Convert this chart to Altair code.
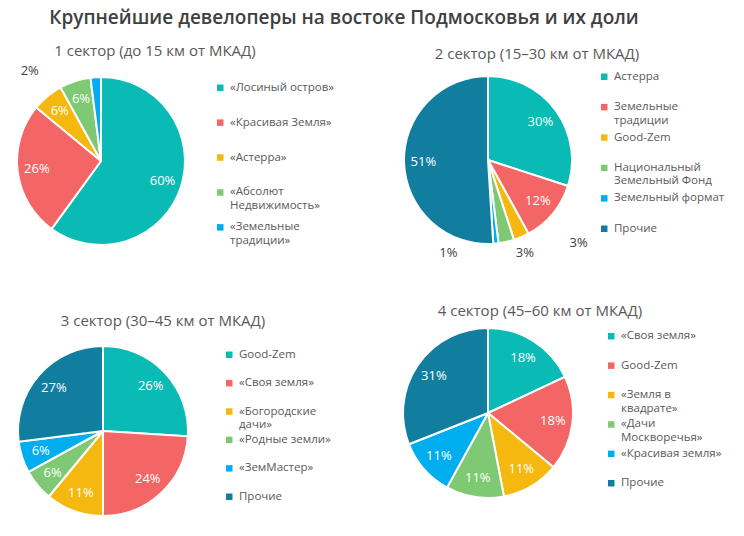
import altair as alt
import pandas as pd

FONT = "Open Sans"
TXT = "#595959"
DARK = "#404040"

TITLE = "Крупнейшие девелоперы на востоке Подмосковья и их доли"

# ---- data ----
s1_title = "1 сектор (до 15 км от МКАД)"
s1_names = ["«Лосиный остров»", "«Красивая Земля»", "«Астерра»", "«Абсолют\nНедвижимость»", "«Земельные\nтрадиции»"]
s1_vals = [60, 26, 6, 6, 2]
s1_colors = ["#0ABAB5", "#F46565", "#F4B80F", "#7FC874", "#00AEEF"]

s2_title = "2 сектор (15–30 км от МКАД)"
s2_names = ["Астерра", "Земельные\nтрадиции", "Good-Zem", "Национальный\nЗемельный Фонд", "Земельный формат", "Прочие"]
s2_vals = [30, 12, 3, 3, 1, 51]
s2_colors = ["#0ABAB5", "#F46565", "#F4B80F", "#7FC874", "#00AEEF", "#127E9F"]

s3_title = "3 сектор (30–45 км от МКАД)"
s3_names = ["Good-Zem", "«Своя земля»", "«Богородские\nдачи»", "«Родные земли»", "«ЗемМастер»", "Прочие"]
s3_vals = [26, 24, 11, 6, 6, 27]
s3_colors = ["#0ABAB5", "#F46565", "#F4B80F", "#7FC874", "#00AEEF", "#127E9F"]

s4_title = "4 сектор (45–60 км от МКАД)"
s4_names = ["«Своя земля»", "Good-Zem", "«Земля в\nквадрате»", "«Дачи\nМоскворечья»", "«Красивая земля»", "Прочие"]
s4_vals = [18, 18, 11, 11, 11, 31]
s4_colors = ["#0ABAB5", "#F46565", "#F4B80F", "#7FC874", "#00AEEF", "#127E9F"]

# ---- layout (chart coordinates; plot origin is page (8, 8 + TOP)) ----
TOP = 8
W, H = 728, 520 - TOP


def px(x):
    return x - 8


def py(y):
    return y - 8 - TOP


LABEL_EXPR = ("indexof(datum.label, '\\n') >= 0 ? split(datum.label, '\\n') "
              ": [datum.label, ' ']")


def text_layer(txt, x, y, size, weight="normal", color=TXT):
    return alt.Chart(pd.DataFrame({"t": [txt]})).mark_text(
        font=FONT, fontSize=size, fontWeight=weight, color=color,
        align="center", baseline="middle",
    ).encode(text="t:N", x=alt.value(px(x)), y=alt.value(py(y)))


def pie(title, names, vals, colors, cx, cy, r, lx, ly, rowpad, tx, ty, outside):
    df = pd.DataFrame({"name": names, "val": vals, "ord": list(range(len(names)))})
    base = alt.Chart().transform_calculate(lbl="format(datum.val, '.0f') + '%'")
    theta = alt.Theta("val:Q", stack=True)
    order = alt.Order("ord:Q")
    arc = base.mark_arc(radius=r, stroke="white", strokeWidth=2).encode(
        theta=theta,
        order=order,
        x=alt.value(px(cx)),
        y=alt.value(py(cy)),
        color=alt.Color(
            "name:N",
            sort=names,
            scale=alt.Scale(domain=names, range=colors),
            legend=alt.Legend(
                orient="none", legendX=px(lx) - 3.5, legendY=py(ly) - 6,
                direction="vertical", title=None, symbolType="square",
                symbolSize=42, symbolStrokeWidth=0, labelFont=FONT,
                labelFontSize=11.5, labelColor=TXT, labelOffset=4,
                rowPadding=rowpad, padding=0, labelLimit=300,
                labelExpr=LABEL_EXPR,
            ),
        ),
    )
    inside = base.mark_text(radius=r * 0.77, font=FONT, fontSize=13, color="white").encode(
        theta=theta,
        order=order,
        x=alt.value(px(cx)),
        y=alt.value(py(cy)),
        text=alt.condition("datum.val >= 5", alt.Text("lbl:N"), alt.value("")),
    )
    layers = [arc, inside]
    for nm, dx, dy in outside:
        layers.append(
            base.mark_text(radius=r + 16, font=FONT, fontSize=13, color=DARK, dx=dx, dy=dy).encode(
                theta=theta,
                order=order,
                x=alt.value(px(cx)),
                y=alt.value(py(cy)),
                text=alt.condition(alt.datum.name == nm, alt.Text("lbl:N"), alt.value("")),
            )
        )
    sub = text_layer(title, tx, ty, 15)
    return alt.layer(*layers, data=df), sub


p1, t1 = pie(s1_title, s1_names, s1_vals, s1_colors, 101, 161, 84, 218, 88, 8.9, 155, 51,
             [(s1_names[4], -65, 10)])
p2, t2 = pie(s2_title, s2_names, s2_vals, s2_colors, 488, 160, 84, 602, 77, 4.4, 537, 54,
             [(s2_names[2], 51, -9), (s2_names[3], 15, -5), (s2_names[4], -49, -7)])
p3, t3 = pie(s3_title, s3_names, s3_vals, s3_colors, 103, 431, 85, 227, 355, 2.4, 163, 321, [])
p4, t4 = pie(s4_title, s4_names, s4_vals, s4_colors, 488, 413, 85, 609, 336.5, 3.4, 540, 311, [])

main_title = text_layer(TITLE, 344, 18, 19, weight=600, color=DARK)

chart = alt.layer(p1, p2, p3, p4, t1, t2, t3, t4, main_title).resolve_scale(
    theta="independent", color="independent"
).properties(
    width=W,
    height=H,
    autosize=alt.AutoSizeParams(type="none"),
    padding={"left": 0, "top": TOP, "right": 0, "bottom": 0},
).configure_view(stroke=None)

chart.save("out.html", embed_options={"renderer": "svg", "actions": False})
